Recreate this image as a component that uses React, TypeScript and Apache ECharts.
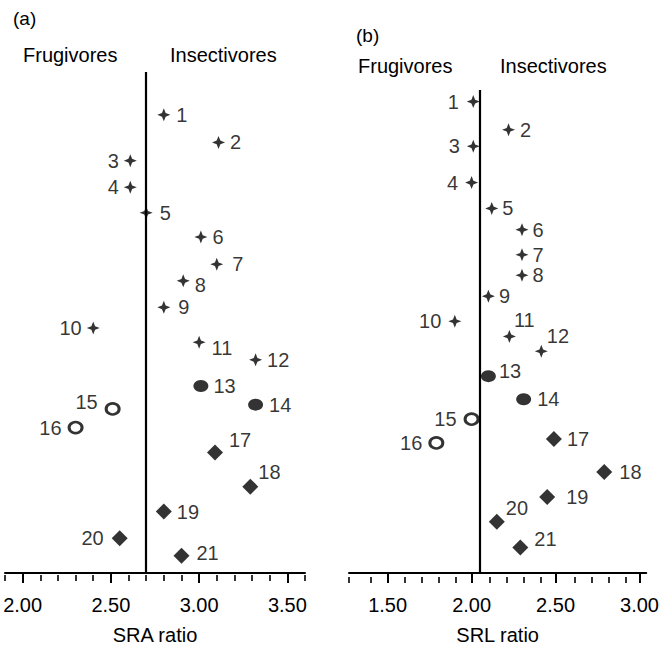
import React, { useEffect, useRef } from "react";
import * as echarts from "echarts";

// ---- data ----
const speciesIds = ["1","2","3","4","5","6","7","8","9","10","11","12","13","14","15","16","17","18","19","20","21"];
// marker group: star = cross, dot = filled circle, open = open circle, diamond = filled diamond
const markerGroup = ["star","star","star","star","star","star","star","star","star","star","star","star","dot","dot","open","open","diamond","diamond","diamond","diamond","diamond"];
const sraRatio = [2.80, 3.11, 2.61, 2.61, 2.70, 3.01, 3.10, 2.91, 2.80, 2.40, 3.00, 3.32, 3.01, 3.32, 2.51, 2.30, 3.09, 3.29, 2.80, 2.55, 2.90];
const srlRatio = [2.01, 2.22, 2.01, 2.00, 2.12, 2.30, 2.30, 2.30, 2.10, 1.90, 2.225, 2.415, 2.10, 2.31, 2.00, 1.79, 2.49, 2.79, 2.45, 2.15, 2.29];
// vertical placement (0 = top of plot, 100 = axis)
const rowA = [8.55, 14.06, 17.69, 23.0, 28.09, 32.94, 38.37, 41.69, 46.98, 51.1, 53.94, 57.46, 62.68, 66.4, 67.26, 70.97, 75.94, 82.76, 87.73, 93.04, 96.56];
const rowB = [2.4, 8.22, 11.65, 19.17, 24.51, 28.91, 34.11, 38.36, 42.68, 47.87, 51.02, 54.1, 59.24, 64.04, 68.15, 73.08, 72.26, 79.1, 84.24, 89.38, 94.72];
const sraThreshold = 2.7;
const srlThreshold = 2.05;
const sraMajorTicks = [2.0, 2.5, 3.0, 3.5];
const sraMinorTicks = [1.9, 2.1, 2.2, 2.3, 2.4, 2.6, 2.7, 2.8, 2.9, 3.1, 3.2, 3.3, 3.4, 3.6];
const srlMajorTicks = [1.5, 2.0, 2.5, 3.0];
const srlMinorTicks = [1.27, 1.4, 1.6, 1.7, 1.8, 1.9, 2.1, 2.2, 2.3, 2.4, 2.6, 2.7, 2.8, 2.9];

// ---- label layout (side, dx, dy) ----
const labelLayoutA: [string, number, number][] = [
  ["r", 1, 0], ["r", 0, 0], ["l", 0, 0], ["l", 0, 0], ["r", 2, 0], ["r", 0, 0], ["r", 4, 0],
  ["r", 0, 4], ["r", 3, 0], ["l", 0, 0], ["r", 1, 6], ["r", 0, 0], ["r", 0, 0], ["r", 1, 0],
  ["l", -2, -7], ["l", -1, 0], ["r", 1, -12], ["r", -5, -15], ["r", 0, 0], ["l", -3, 0], ["r", 2, -3],
];
const labelLayoutB: [string, number, number][] = [
  ["l", -3, 0], ["r", 0, 0], ["l", -2, 0], ["l", -2, 0], ["r", -1, 0], ["r", -1, 0], ["r", -1, 0],
  ["r", -1, 0], ["r", -1, 0], ["l", -2, 0], ["r", -7, -16], ["r", -6, -15], ["r", -2, -5], ["r", 1, 0],
  ["l", -2, 0], ["l", -1, 0], ["r", 0, 0], ["r", 2, 0], ["r", 6, 0], ["r", -4, -14], ["r", 1, -8],
];

const FONT = "'Liberation Sans', Arial, Helvetica, sans-serif";
const INK = "#000";
const STAR = "path://M0,-10 L2.8,-2.8 L10,0 L2.8,2.8 L0,10 L-2.8,2.8 L-10,0 L-2.8,-2.8 Z";

function symbolStyle(group: string) {
  if (group === "star") return { symbol: STAR, symbolSize: [13, 13], itemStyle: { color: INK } };
  if (group === "dot") return { symbol: "circle", symbolSize: [15, 12], itemStyle: { color: INK } };
  if (group === "open")
    return { symbol: "circle", symbolSize: [13, 11], itemStyle: { color: "#fff", borderColor: INK, borderWidth: 2.8 } };
  return { symbol: "diamond", symbolSize: [16, 16], itemStyle: { color: INK } };
}

function buildData(xs: number[], rows: number[], layout: [string, number, number][]) {
  return speciesIds.map((id, i) => {
    const s = symbolStyle(markerGroup[i]);
    const [side, dx, dy] = layout[i];
    return {
      value: [xs[i], rows[i]],
      name: id,
      symbol: s.symbol,
      symbolSize: s.symbolSize,
      itemStyle: s.itemStyle,
      label: {
        show: true,
        formatter: id,
        position: side === "l" ? "left" : "right",
        distance: 5,
        offset: [dx, dy],
        color: INK,
        fontSize: 20,
        fontFamily: FONT,
      },
    };
  });
}

function majorAxis(gridIndex: number, min: number, max: number, major: number[], name: string) {
  return {
    type: "value", gridIndex, min, max, position: "bottom",
    name, nameLocation: "middle", nameGap: 52,
    nameTextStyle: { color: INK, fontSize: 20, fontFamily: FONT },
    axisLine: { show: true, onZero: false, lineStyle: { color: INK, width: 2 } },
    axisTick: { show: true, customValues: major, length: 10, lineStyle: { color: INK, width: 2 } },
    axisLabel: {
      show: true, customValues: major, margin: 22, color: INK, fontSize: 20, fontFamily: FONT,
      formatter: (v: number) => v.toFixed(2),
    },
    splitLine: { show: false },
  };
}

function minorAxis(gridIndex: number, min: number, max: number, minor: number[]) {
  return {
    type: "value", gridIndex, min, max, position: "bottom",
    axisLine: { show: false, onZero: false },
    axisTick: { show: true, customValues: minor, length: 6, lineStyle: { color: INK, width: 1.6 } },
    axisLabel: { show: false },
    splitLine: { show: false },
  };
}

export default function App() {
  const ref = useRef<HTMLDivElement>(null);
  useEffect(() => {
    if (!ref.current) return;
    const chart = echarts.init(ref.current, undefined, { renderer: "svg" });
    const vline = (x: number) => ({
      silent: true,
      symbol: ["none", "none"],
      label: { show: false },
      lineStyle: { color: INK, width: 2.2, type: "solid" },
      data: [{ xAxis: x }],
    });
    const textEl = (text: string, x: number, y: number, size: number) => ({
      type: "text", x, y,
      style: { text, fill: INK, fontSize: size, fontFamily: FONT, align: "left", verticalAlign: "middle", textAlign: "left", textVerticalAlign: "middle" },
    });
    const gA = { left: 5, top: 72, width: 300, height: 503 };
    const gB = { left: 349, top: 90, width: 300, height: 487 };
    chart.setOption({
      animation: false,
      backgroundColor: "#fff",
      grid: [gA, gB, gA, gB],
      xAxis: [
        majorAxis(0, 1.9, 3.6, sraMajorTicks, "SRA ratio"),
        majorAxis(1, 1.27, 3.04, srlMajorTicks, "SRL ratio"),
        minorAxis(2, 1.9, 3.6, sraMinorTicks),
        minorAxis(3, 1.27, 3.04, srlMinorTicks),
      ],
      yAxis: [0, 1, 2, 3].map((g) => ({ type: "value", gridIndex: g, min: 0, max: 100, inverse: true, show: false })),
      series: [
        {
          type: "scatter", xAxisIndex: 0, yAxisIndex: 0,
          data: buildData(sraRatio, rowA, labelLayoutA),
          markLine: vline(sraThreshold),
        },
        {
          type: "scatter", xAxisIndex: 1, yAxisIndex: 1,
          data: buildData(srlRatio, rowB, labelLayoutB),
          markLine: vline(srlThreshold),
        },
      ],
      graphic: [
        textEl("(a)", 13, 18, 19),
        textEl("Frugivores", 23, 55, 20),
        textEl("Insectivores", 170, 55, 20),
        textEl("(b)", 356, 35, 19),
        textEl("Frugivores", 358, 66, 20),
        textEl("Insectivores", 500, 66, 20),
      ],
    });
    return () => chart.dispose();
  }, []);
  return <div ref={ref} style={{ position: "fixed", left: 0, top: 0, width: 662, height: 650, background: "#fff" }} />;
}
